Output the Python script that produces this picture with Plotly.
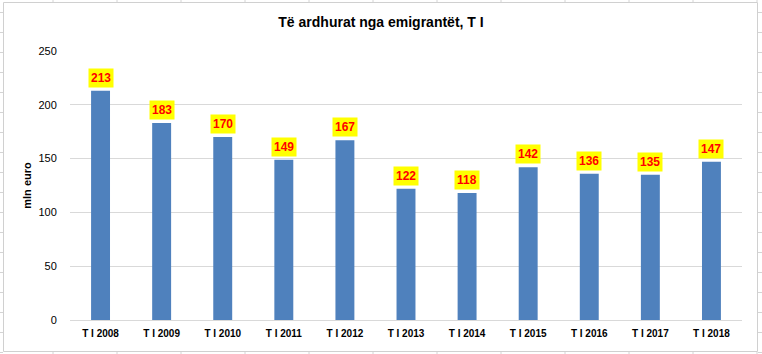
import plotly.graph_objects as go

categories = ["T I 2008", "T I 2009", "T I 2010", "T I 2011", "T I 2012", "T I 2013",
              "T I 2014", "T I 2015", "T I 2016", "T I 2017", "T I 2018"]
values = [213, 183, 170, 149, 167, 122, 118, 142, 136, 135, 147]
y_ticks = [0, 50, 100, 150, 200, 250]

W, H = 762, 354
L, R, T, B = 70, 742, 51, 320  # plot area pixels

def px(x):
    return (x - L) / (R - L)

def py(y):
    return (B - y) / (B - T)

FONT = "Liberation Sans"

fig = go.Figure()
fig.add_trace(go.Bar(x=categories, y=values, marker_color="#4F81BD",
                     marker_line_width=0, hoverinfo="skip"))

annotations = []
for c, v in zip(categories, values):
    annotations.append(dict(x=c, y=v, xref="x", yref="y", text=f"<b>{v}</b>",
                            showarrow=False, yanchor="bottom", yshift=3,
                            bgcolor="#FFFF00", borderpad=2,
                            font=dict(family=FONT, size=12, color="#FF0000")))

shapes = []
gray = "#D4D4D4"
# Excel sheet grid outside chart
for x in range(53, 762, 64):
    shapes.append(dict(type="line", xref="paper", yref="paper",
                       x0=px(x), x1=px(x), y0=py(0), y1=py(2), line=dict(color=gray, width=1)))
    shapes.append(dict(type="line", xref="paper", yref="paper",
                       x0=px(x), x1=px(x), y0=py(352), y1=py(354), line=dict(color=gray, width=1)))
for y in range(12, 354, 20):
    shapes.append(dict(type="line", xref="paper", yref="paper",
                       x0=px(0), x1=px(3), y0=py(y + 0.5), y1=py(y + 0.5), line=dict(color=gray, width=1)))
    shapes.append(dict(type="line", xref="paper", yref="paper",
                       x0=px(758), x1=px(762), y0=py(y + 0.5), y1=py(y + 0.5), line=dict(color=gray, width=1)))
# chart border
shapes.append(dict(type="rect", xref="paper", yref="paper",
                   x0=px(3.5), x1=px(757.5), y0=py(2.5), y1=py(351.5),
                   line=dict(color="#D0D0D0", width=1), layer="below"))

fig.update_layout(
    width=W, height=H,
    margin=dict(l=L, r=W - R, t=T, b=H - B),
    paper_bgcolor="white", plot_bgcolor="white",
    showlegend=False,
    bargap=0.69,
    title=dict(text="<b>Të ardhurat nga emigrantët, T I</b>", x=0.5, xref="container",
               xanchor="center", y=1 - 22 / H, yref="container", yanchor="middle",
               font=dict(family=FONT, size=14, color="#000000")),
    xaxis=dict(showgrid=False, showline=True, linecolor="#D9D9D9", linewidth=1,
               tickfont=dict(family=FONT, size=10, color="#000000"),
               tickprefix="<b>", ticksuffix="</b>",
               ticks="outside", ticklen=4, tickcolor="rgba(0,0,0,0)", fixedrange=True),
    yaxis=dict(range=[0, 250], tickvals=y_ticks, showgrid=True, gridcolor="#D9D9D9",
               gridwidth=1, zeroline=False, showline=False,
               ticks="outside", ticklen=10, tickcolor="rgba(0,0,0,0)",
               tickfont=dict(family=FONT, size=11, color="#000000"),
               title=dict(text="<b>mln euro</b>", standoff=4,
                          font=dict(family=FONT, size=11, color="#000000"))),
    annotations=annotations,
    shapes=shapes,
)

fig.write_html("out.html")
